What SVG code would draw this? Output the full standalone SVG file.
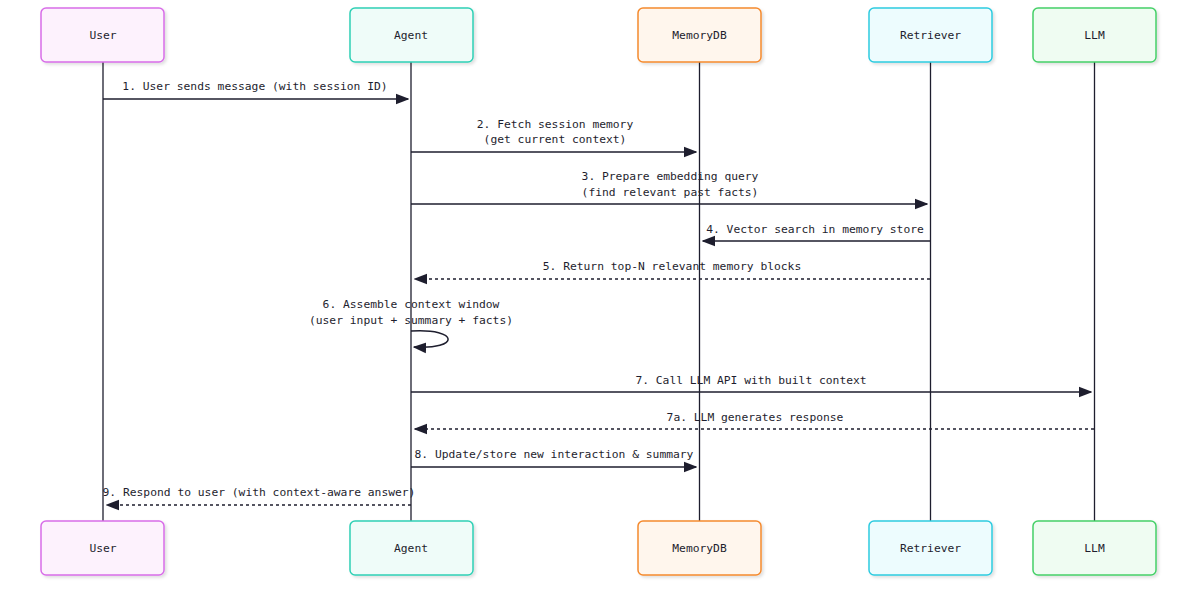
<svg xmlns="http://www.w3.org/2000/svg" width="1200" height="610" viewBox="0 0 1200 610">
<style>
text{font-family:"DejaVu Sans Mono","Liberation Mono",monospace;font-size:11.3px;fill:#1e1e2e;text-anchor:middle}
.life{stroke:#1e1e2e;stroke-width:1.3}
.msg{stroke:#1e1e2e;stroke-width:1.5;fill:none}
.d{stroke-dasharray:3,3}
</style>
<defs>
<marker id="a" viewBox="0 0 10 10" refX="9" refY="5" markerWidth="9" markerHeight="9" orient="auto"><path d="M0,1 L10,5 L0,9z" fill="#1e1e2e"/></marker>
<filter id="s"><feDropShadow dx="2" dy="2" stdDeviation="1.5" flood-opacity="0.12"/></filter>
</defs>
<g id="lifelines">
<line class="life" x1="103" y1="62" x2="103" y2="521"/>
<line class="life" x1="411" y1="62" x2="411" y2="521"/>
<line class="life" x1="699.5" y1="62" x2="699.5" y2="521"/>
<line class="life" x1="930.5" y1="62" x2="930.5" y2="521"/>
<line class="life" x1="1094.5" y1="62" x2="1094.5" y2="521"/>
</g>
<g id="user"><rect x="41" y="8" width="123" height="54" rx="5" fill="#fdf2fd" stroke="#d86de8" stroke-width="1.5" filter="url(#s)"/><text x="103" y="39">User</text>
<rect x="41" y="521" width="123" height="54" rx="5" fill="#fdf2fd" stroke="#d86de8" stroke-width="1.5" filter="url(#s)"/><text x="103" y="552">User</text></g>
<g id="agent"><rect x="350" y="8" width="123" height="54" rx="5" fill="#effcf9" stroke="#2fd0b5" stroke-width="1.5" filter="url(#s)"/><text x="411" y="39">Agent</text>
<rect x="350" y="521" width="123" height="54" rx="5" fill="#effcf9" stroke="#2fd0b5" stroke-width="1.5" filter="url(#s)"/><text x="411" y="552">Agent</text></g>
<g id="memorydb"><rect x="638" y="8" width="123" height="54" rx="5" fill="#fff6ed" stroke="#f58a2e" stroke-width="1.5" filter="url(#s)"/><text x="699.5" y="39">MemoryDB</text>
<rect x="638" y="521" width="123" height="54" rx="5" fill="#fff6ed" stroke="#f58a2e" stroke-width="1.5" filter="url(#s)"/><text x="699.5" y="552">MemoryDB</text></g>
<g id="retriever"><rect x="869" y="8" width="123" height="54" rx="5" fill="#edfcfe" stroke="#2ecbe0" stroke-width="1.5" filter="url(#s)"/><text x="930.5" y="39">Retriever</text>
<rect x="869" y="521" width="123" height="54" rx="5" fill="#edfcfe" stroke="#2ecbe0" stroke-width="1.5" filter="url(#s)"/><text x="930.5" y="552">Retriever</text></g>
<g id="llm"><rect x="1033" y="8" width="123" height="54" rx="5" fill="#effcf2" stroke="#45d068" stroke-width="1.5" filter="url(#s)"/><text x="1094.5" y="39">LLM</text>
<rect x="1033" y="521" width="123" height="54" rx="5" fill="#effcf2" stroke="#45d068" stroke-width="1.5" filter="url(#s)"/><text x="1094.5" y="552">LLM</text></g>
<g id="connectors">
<line class="msg" x1="103" y1="99" x2="408" y2="99" marker-end="url(#a)"/><text x="255" y="90">1. User sends message (with session ID)</text>
<line class="msg" x1="411" y1="152" x2="696" y2="152" marker-end="url(#a)"/><text x="555" y="128">2. Fetch session memory</text><text x="555" y="143">(get current context)</text>
<line class="msg" x1="411" y1="204" x2="927" y2="204" marker-end="url(#a)"/><text x="670" y="180">3. Prepare embedding query</text><text x="670" y="196">(find relevant past facts)</text>
<line class="msg" x1="930" y1="241" x2="703" y2="241" marker-end="url(#a)"/><text x="815" y="233">4. Vector search in memory store</text>
<line class="msg d" x1="930" y1="279" x2="415" y2="279" marker-end="url(#a)"/><text x="672" y="270">5. Return top-N relevant memory blocks</text>
<text x="411" y="308">6. Assemble context window</text><text x="411" y="324">(user input + summary + facts)</text>
<path class="msg" d="M411,331 C460,328 460,350 414,347" marker-end="url(#a)"/>
<line class="msg" x1="411" y1="392" x2="1091" y2="392" marker-end="url(#a)"/><text x="751" y="384">7. Call LLM API with built context</text>
<line class="msg d" x1="1094" y1="429" x2="415" y2="429" marker-end="url(#a)"/><text x="755" y="421">7a. LLM generates response</text>
<line class="msg" x1="411" y1="467" x2="696" y2="467" marker-end="url(#a)"/><text x="554" y="458">8. Update/store new interaction &amp; summary</text>
<line class="msg d" x1="411" y1="505" x2="107" y2="505" marker-end="url(#a)"/><text x="259" y="496">9. Respond to user (with context-aware answer)</text>
</g>
</svg>
